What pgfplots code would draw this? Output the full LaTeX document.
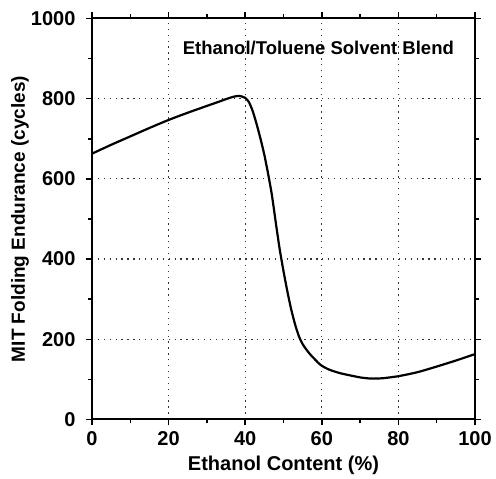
\documentclass[border=0pt]{standalone}
\usepackage{fontspec}
\setmainfont{Liberation Sans}
\usepackage{pgfplots}
\pgfplotsset{compat=1.18}
\begin{document}
\begin{tikzpicture}
\begin{axis}[
  at={(0,0)}, anchor=south west,
  scale only axis, width=383pt, height=401pt,
  xmin=0, xmax=100, ymin=0, ymax=1000,
  xtick={0,20,...,100}, ytick={0,200,...,1000},
  minor xtick={10,30,50,70,90}, minor ytick={100,300,500,700,900},
  tick align=outside, tick pos=both,
  major tick length=6pt, minor tick length=4pt,
  every tick/.style={line width=1.5pt, black},
  axis line style={line width=2pt},
  grid=major,
  major grid style={dash pattern=on 1.3pt off 4.6pt, line width=1.2pt, black!80},
  /pgf/number format/assume math mode=true,
  /pgf/number format/1000 sep={},
  ticklabel style={font=\bfseries\fontsize{20}{20}\selectfont},
  xticklabel style={yshift=-3pt},
  yticklabel style={xshift=-7pt},
  xlabel={Ethanol Content (\%)},
  ylabel={MIT Folding Endurance (cycles)},
  xlabel style={font=\bfseries\fontsize{20}{20}\selectfont, at={(axis description cs:0.5,-0.115)}, anchor=center},
  ylabel style={font=\bfseries\fontsize{19}{19}\selectfont, at={(axis description cs:-0.188,0.5)}, anchor=center, rotate=0},
  clip=true,
]
\addplot[black, line width=2.2pt, smooth, tension=0.4] coordinates {
(0,663) (5,685) (10,706) (15,727) (20,747) (25,765) (30,782) (33,792) (35,799) (37,805) (38.5,807) (40,802) (41,791) (42,768) (43,736) (44,700) (45,660) (46,612) (47,558) (48,490) (49,425) (50,370) (51,320) (52,275) (53,238) (54,208) (55,188) (56,174) (57,162) (58,152) (59,142) (60,134) (62,124) (65,115) (70,105) (73,102) (76,103) (80,108) (85,118) (90,132) (95,147) (100,163)
};
\node[font=\bfseries\fontsize{18.5}{18.5}\selectfont, anchor=base] at (axis cs:59.1,909.5) {Ethanol/Toluene Solvent Blend};
\end{axis}
\path[use as bounding box] (-92pt,-56.3pt) rectangle (404pt,419.5pt);
\end{tikzpicture}
\end{document}
